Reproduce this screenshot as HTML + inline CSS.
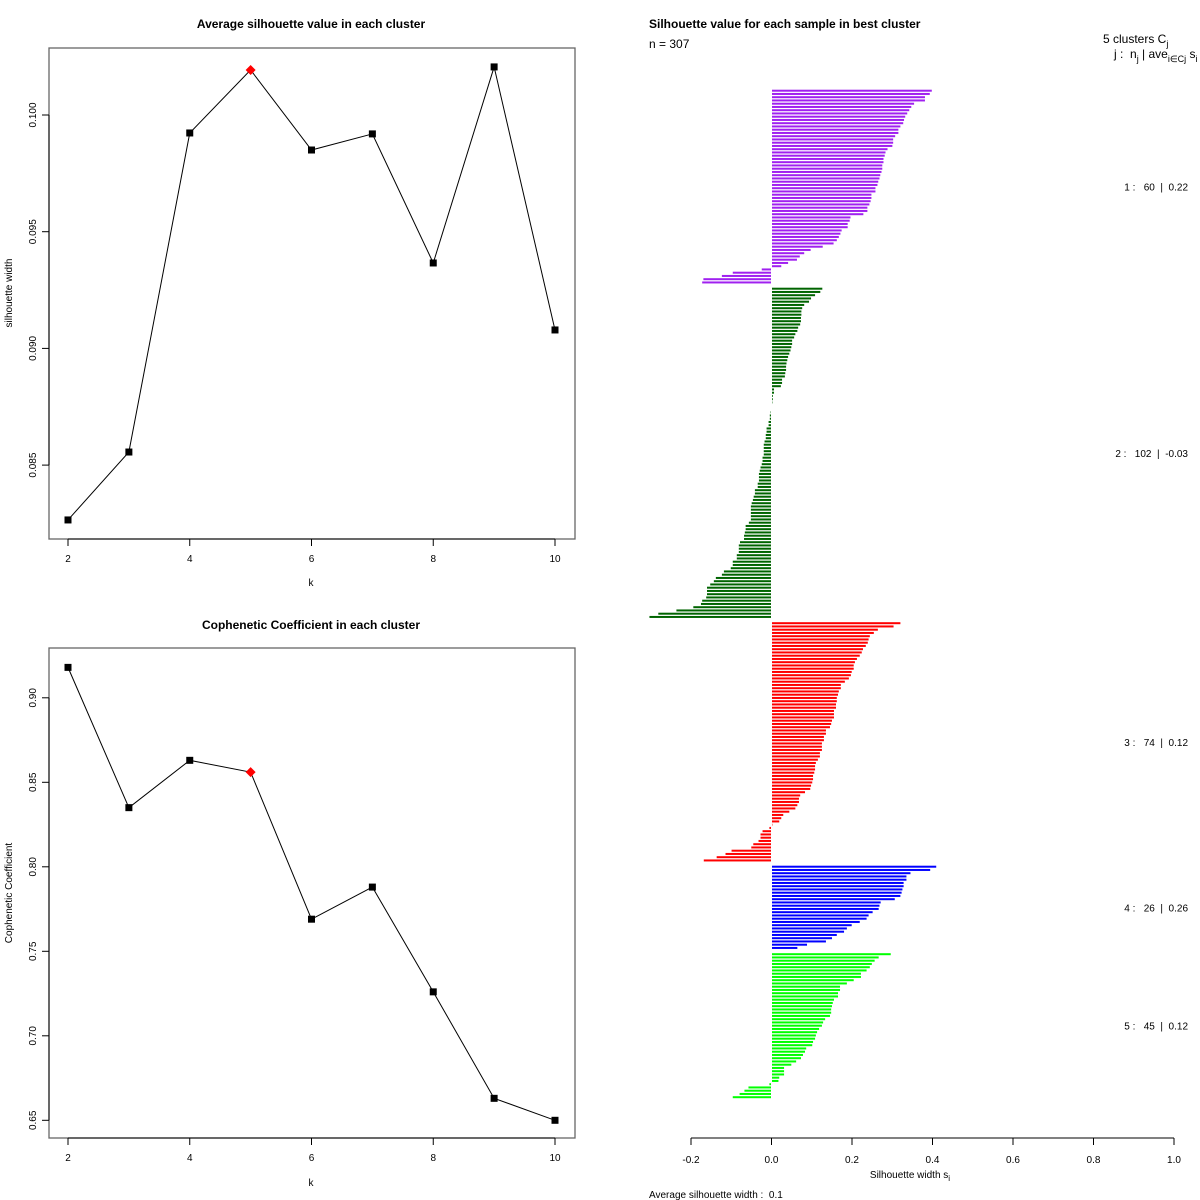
<!DOCTYPE html>
<html><head><meta charset="utf-8">
<style>
html,body{margin:0;padding:0;background:#fff;}
svg{display:block;font-family:"Liberation Sans",Arial,sans-serif;}
.pre{white-space:pre;}
</style></head>
<body>
<svg id="root" width="1200" height="1200" viewBox="0 0 1200 1200" xmlns="http://www.w3.org/2000/svg">
  <rect width="1200" height="1200" fill="#fff"/>
  <g id="p1">
    <text x="311" y="28" text-anchor="middle" font-size="12" font-weight="bold">Average silhouette value in each cluster</text>
    <rect x="49" y="48" width="526" height="491" fill="none" stroke="#666" stroke-width="1.3"/>
    <text transform="translate(12,293) rotate(-90)" text-anchor="middle" font-size="10">silhouette width</text>
    <text x="311" y="586" text-anchor="middle" font-size="10">k</text>
  </g>
  <g id="p2">
    <text x="311" y="629" text-anchor="middle" font-size="12" font-weight="bold">Cophenetic Coefficient in each cluster</text>
    <rect x="49" y="648" width="526" height="490" fill="none" stroke="#666" stroke-width="1.3"/>
    <text transform="translate(12,893) rotate(-90)" text-anchor="middle" font-size="10">Cophenetic Coefficient</text>
    <text x="311" y="1186" text-anchor="middle" font-size="10">k</text>
  </g>
  <g id="p3">
    <text x="649" y="28" font-size="12" font-weight="bold">Silhouette value for each sample in best cluster</text>
    <text x="649" y="48" font-size="12">n = 307</text>
    <text x="1103" y="43" font-size="12">5 clusters C<tspan font-size="9" dy="4">j</tspan></text>
    <text x="1114" y="58" font-size="12" class="pre">j :  n<tspan font-size="9" dy="4">j</tspan><tspan dy="-4"> | ave</tspan><tspan font-size="9" dy="4">i∈Cj</tspan><tspan dy="-4"> s</tspan><tspan font-size="9" dy="4">i</tspan></text>
    <text x="910" y="1178" text-anchor="middle" font-size="10">Silhouette width s<tspan font-size="8" dy="3">i</tspan></text>
    <text x="649" y="1198" font-size="10" class="pre">Average silhouette width :  0.1</text>
  </g>
</svg>
<script>
const NS="http://www.w3.org/2000/svg";
// ---- chart 1 & 2 data ----
const kValues=[2,3,4,5,6,7,8,9,10];
const avgSilhouette=[0.08265,0.08556,0.09923,0.10193,0.0985,0.09919,0.09366,0.10206,0.09079];
const copheneticCoef=[0.918,0.835,0.863,0.856,0.769,0.788,0.726,0.663,0.650];
const bestK=5;
const kTicks=[2,4,6,8,10];
const avgTicks=[0.085,0.090,0.095,0.100];
const avgTickLabels=["0.085","0.090","0.095","0.100"];
const cophTicks=[0.65,0.70,0.75,0.80,0.85,0.90];
const cophTickLabels=["0.65","0.70","0.75","0.80","0.85","0.90"];
// ---- silhouette data ----
const clusterIds=[1,2,3,4,5];
const clusterSizes=[60,102,74,26,45];
const clusterAvg=["0.22","-0.03","0.12","0.26","0.12"];
const clusterColors=["#A020F0","#006400","#FF0000","#0000FF","#00FF00"];
const sil1=[0.397,0.392,0.380,0.380,0.353,0.346,0.341,0.336,0.331,0.328,0.326,0.319,0.314,0.314,0.306,0.301,0.301,0.299,0.287,0.282,0.280,0.277,0.277,0.274,0.274,0.272,0.269,0.267,0.264,0.262,0.257,0.257,0.247,0.247,0.245,0.242,0.237,0.237,0.227,0.195,0.193,0.188,0.188,0.173,0.170,0.166,0.161,0.153,0.126,0.096,0.080,0.069,0.062,0.040,0.023,-0.023,-0.095,-0.122,-0.168,-0.171];
const sil2=[0.125,0.120,0.107,0.097,0.092,0.080,0.075,0.073,0.073,0.072,0.072,0.070,0.065,0.063,0.058,0.055,0.050,0.050,0.048,0.046,0.043,0.040,0.038,0.036,0.035,0.035,0.033,0.032,0.025,0.025,0.022,0.005,0.005,0.002,0.002,0.001,0,0,-0.001,
-0.003,-0.003,-0.006,-0.006,-0.011,-0.011,-0.013,-0.013,-0.016,-0.018,-0.018,-0.018,-0.018,-0.021,-0.021,-0.023,-0.026,-0.028,-0.030,-0.030,-0.030,-0.033,-0.033,-0.040,-0.040,-0.043,-0.045,-0.048,-0.050,-0.050,-0.050,-0.050,-0.050,-0.055,-0.063,-0.063,-0.065,-0.067,-0.067,-0.077,-0.080,-0.080,-0.080,-0.085,-0.085,-0.095,-0.095,-0.100,-0.117,-0.122,-0.137,-0.142,-0.151,-0.159,-0.159,-0.159,-0.161,-0.171,-0.174,-0.193,-0.235,-0.280,-0.302];
const sil3=[0.319,0.302,0.263,0.253,0.243,0.240,0.238,0.233,0.226,0.223,0.218,0.211,0.206,0.203,0.203,0.198,0.196,0.191,0.181,0.171,0.171,0.166,0.164,0.161,0.161,0.159,0.159,0.154,0.154,0.154,0.149,0.147,0.144,0.134,0.134,0.129,0.129,0.124,0.124,0.124,0.119,0.119,0.114,0.109,0.107,0.107,0.105,0.102,0.102,0.100,0.097,0.095,0.082,0.070,0.067,0.067,0.063,0.058,0.043,0.028,0.023,0.018,0.001,-0.004,-0.021,-0.026,-0.026,-0.031,-0.044,-0.049,-0.098,-0.113,-0.135,-0.167];
const sil4=[0.408,0.393,0.344,0.334,0.334,0.327,0.327,0.324,0.322,0.319,0.305,0.270,0.267,0.265,0.250,0.240,0.235,0.218,0.198,0.186,0.179,0.161,0.149,0.134,0.087,0.063];
const sil5=[0.295,0.265,0.255,0.248,0.243,0.235,0.221,0.221,0.203,0.186,0.169,0.169,0.164,0.164,0.154,0.151,0.149,0.147,0.147,0.144,0.132,0.127,0.124,0.117,0.112,0.109,0.107,0.102,0.100,0.085,0.082,0.077,0.072,0.060,0.048,0.030,0.030,0.030,0.018,0.016,-0.004,-0.056,-0.066,-0.078,-0.095];
const silTicks=[-0.2,0,0.2,0.4,0.6,0.8,1.0];
const silTickLabels=["-0.2","0.0","0.2","0.4","0.6","0.8","1.0"];

// ---- axis functions ----
const xK=k=>68+(k-2)*60.875;
const yAvg=v=>115+(0.1-v)/0.005*116.7;
const yCoph=v=>697.8+(0.9-v)/0.05*84.5;
const xSil=v=>771.5+v*402.5;
const barPitch=3.25, clusterGap=3, barTop=90.7;

function mk(parent,tag,attrs){const e=document.createElementNS(NS,tag);for(const a in attrs)e.setAttribute(a,attrs[a]);parent.appendChild(e);return e;}

function lineChart(gid,vals,yf,yt,ytl,boxBottom,prefix){
  const g=document.getElementById(gid);
  let ax=mk(g,'line',{x1:xK(2),x2:xK(10),y1:boxBottom,y2:boxBottom,stroke:'#000'});
  
  
  kTicks.forEach(k=>{
    let t=mk(g,'line',{x1:xK(k),x2:xK(k),y1:boxBottom,y2:boxBottom+7,stroke:'#000'});
    
    
    let l=mk(g,'text',{x:xK(k),y:boxBottom+23,'text-anchor':'middle','font-size':'10'});
    l.textContent=k;
    
    
  });
  let ay=mk(g,'line',{x1:49,x2:49,y1:yf(yt[0]),y2:yf(yt[yt.length-1]),stroke:'#000'});
  
  
  yt.forEach((v,i)=>{
    let t=mk(g,'line',{x1:42,x2:49,y1:yf(v),y2:yf(v),stroke:'#000'});
    
    
    let l=mk(g,'text',{transform:`translate(36,${yf(v)}) rotate(-90)`,'text-anchor':'middle','font-size':'10'});
    l.textContent=ytl[i];
    
    
  });
  let pts=kValues.map((k,i)=>xK(k)+','+yf(vals[i])).join(' ');
  let pl=mk(g,'polyline',{points:pts,fill:'none',stroke:'#000','stroke-width':'1'});
  
  
  kValues.forEach((k,i)=>{
    const x=xK(k),y=yf(vals[i]);
    let m;
    if(k===bestK){
      m=mk(g,'polygon',{points:`${x},${y-5} ${x+5},${y} ${x},${y+5} ${x-5},${y}`,fill:'#f00'});
      
    }else{
      m=mk(g,'rect',{x:x-3.5,y:y-3.5,width:7,height:7,fill:'#000'});
      
    }
    
  });
}
lineChart('p1',avgSilhouette,yAvg,avgTicks,avgTickLabels,539,'avg-silhouette');
lineChart('p2',copheneticCoef,yCoph,cophTicks,cophTickLabels,1138,'cophenetic');

const g3=document.getElementById('p3');
const silAll=[sil1,sil2,sil3,sil4,sil5];
let idx=0;
silAll.forEach((arr,c)=>{
  const start=barTop+idx*barPitch+c*clusterGap;
  arr.forEach((v,i)=>{
    const y=start+i*barPitch;
    const x0=xSil(0), x1=xSil(v);
    let r=mk(g3,'rect',{x:Math.min(x0,x1)+(v>=0?0.5:-0.5),y:y-1,width:Math.abs(x1-x0),height:2,fill:clusterColors[c]});
    
    
  });
  const mid=start+(arr.length-1)*barPitch/2;
  let lab=mk(g3,'text',{x:1188,y:mid+4,'text-anchor':'end','font-size':'10','class':'pre'});
  lab.textContent=clusterIds[c]+' :   '+clusterSizes[c]+'  |  '+clusterAvg[c];
  
  
  idx+=arr.length;
});
let sax=mk(g3,'line',{x1:xSil(-0.2),x2:xSil(1.0),y1:1138,y2:1138,stroke:'#000'});


silTicks.forEach((v,i)=>{
  let t=mk(g3,'line',{x1:xSil(v),x2:xSil(v),y1:1138,y2:1145,stroke:'#000'});
  
  
  let l=mk(g3,'text',{x:xSil(v),y:1163,'text-anchor':'middle','font-size':'10'});
  l.textContent=silTickLabels[i];
  
  
});
</script>
</body></html>
